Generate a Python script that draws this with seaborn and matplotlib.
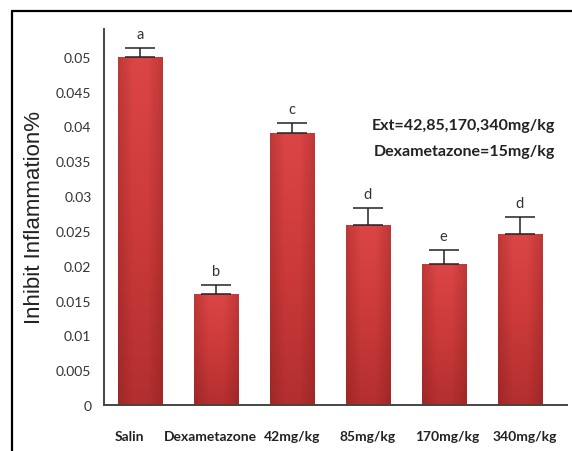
import numpy as np
import pandas as pd
import matplotlib
matplotlib.use("Agg")
import matplotlib.pyplot as plt
import matplotlib.transforms as mtransforms
import seaborn as sns
from matplotlib.colors import LinearSegmentedColormap

# Group means, upper error and significance letters
groups = ["Salin", "Dexametazone", "42mg/kg", "85mg/kg", "170mg/kg", "340mg/kg"]
inhibition = [0.0500, 0.0160, 0.0390, 0.0259, 0.0202, 0.0246]
errors = [0.0013, 0.0013, 0.0015, 0.0024, 0.0021, 0.0024]
letters = ["a", "b", "c", "d", "e", "d"]
y_ticks = [0, 0.005, 0.01, 0.015, 0.02, 0.025, 0.03, 0.035, 0.04, 0.045, 0.05]
y_tick_labels = ["0", "0.005", "0.01", "0.015", "0.02", "0.025", "0.03",
                 "0.035", "0.04", "0.045", "0.05"]
note_lines = ["Ext=42,85,170,340mg/kg", "Dexametazone=15mg/kg"]

df = pd.DataFrame({"group": groups, "inhibition": inhibition})

sns.set_theme(style="white")
plt.rcParams["font.family"] = ["Lato", "DejaVu Sans"]

fig = plt.figure(figsize=(5.72, 4.52), dpi=100)
ax = fig.add_axes([0.1818, 0.1018, 0.8092, 0.8318])

sns.barplot(data=df, x="group", y="inhibition", color="#cf3b3b",
            width=0.58, errorbar=None, ax=ax, saturation=1,
            edgecolor="#9a2a2a", linewidth=0.5)

# Red fill: lighter at the top, deeper at the base, soft darker sides
vcmap = LinearSegmentedColormap.from_list("v", ["#b32f2f", "#cc3a3a", "#db4545"])
hcmap = LinearSegmentedColormap.from_list(
    "h", [(0.35, 0.05, 0.05, 0.22), (0.35, 0.05, 0.05, 0.0),
          (0.35, 0.05, 0.05, 0.0), (0.35, 0.05, 0.05, 0.22)])
vgrad = np.linspace(0, 1, 128).reshape(-1, 1)
hgrad = np.linspace(0, 1, 64).reshape(1, -1)
for patch in ax.patches:
    x0, y0 = patch.get_x(), patch.get_y()
    w, h = patch.get_width(), patch.get_height()
    z = patch.get_zorder()
    base = ax.imshow(vgrad, extent=[x0, x0 + w, y0, y0 + h], aspect="auto",
                     cmap=vcmap, origin="lower", zorder=z + 0.1,
                     interpolation="bicubic")
    base.set_clip_path(patch)
    sides = ax.imshow(hgrad, extent=[x0, x0 + w, y0, y0 + h], aspect="auto",
                      cmap=hcmap, zorder=z + 0.2, interpolation="bicubic")
    sides.set_clip_path(patch)

xpos = np.arange(len(groups))
ax.errorbar(xpos, inhibition, yerr=[np.zeros(len(errors)), errors],
            fmt="none", ecolor="#222222", elinewidth=1.1, capsize=11,
            capthick=1.1, zorder=5)

for xi, v, e, lab in zip(xpos, inhibition, errors, letters):
    ax.annotate(lab, (xi, v + e), xytext=(0, 10), textcoords="offset points",
                ha="center", va="center", fontsize=10.5, color="#333333")

ax.set_xlim(-0.47, 5.62)
ax.set_ylim(0, 0.054)
ax.set_yticks(y_ticks)
ax.set_yticklabels(y_tick_labels)
ax.tick_params(axis="y", length=0, pad=9, labelsize=10, labelcolor="#333333")
ax.tick_params(axis="x", length=0, pad=18, labelsize=10, labelcolor="#222222")
# nudge the category labels sideways a little
shifts_px = [-10, -5, 0, 0, 3, 5]
for t, dx in zip(ax.get_xticklabels(), shifts_px):
    t.set_fontweight("bold")
    t.set_transform(t.get_transform() +
                    mtransforms.ScaledTranslation(dx / 100, 0, fig.dpi_scale_trans))
ax.set_xlabel("")
ax.set_ylabel("Inhibit Inflammation%", fontsize=16, color="#222222",
              labelpad=8, family=["Liberation Sans", "DejaVu Sans"])

for side in ["top", "right"]:
    ax.spines[side].set_visible(False)
for side in ["left", "bottom"]:
    ax.spines[side].set_color("#444444")
    ax.spines[side].set_linewidth(1.4)

ax.text(0.975, 0.746, note_lines[0], transform=ax.transAxes, ha="right",
        va="center", fontsize=11.5, fontweight="bold", color="#222222")
ax.text(0.975, 0.676, note_lines[1], transform=ax.transAxes, ha="right",
        va="center", fontsize=11.5, fontweight="bold", color="#222222")

# Frame around the figure
fig.add_artist(plt.Line2D([12 / 572, 12 / 572], [0, 1 - 12 / 452],
                          color="black", linewidth=1.6, transform=fig.transFigure))
fig.add_artist(plt.Line2D([12 / 572, 1], [1 - 12 / 452, 1 - 12 / 452],
                          color="black", linewidth=1.6, transform=fig.transFigure))

fig.savefig("out.png", dpi=100)
